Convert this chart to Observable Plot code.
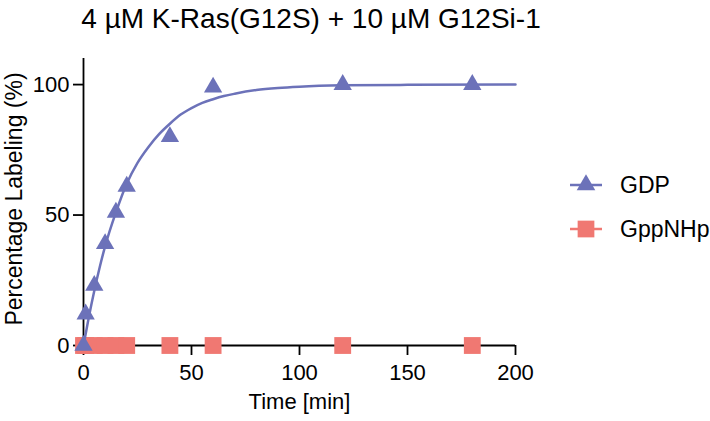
<!DOCTYPE html>
<html>
<head>
<meta charset="utf-8">
<script src="https://cdn.jsdelivr.net/npm/d3@7"></script>
<script src="https://cdn.jsdelivr.net/npm/@observablehq/plot@0.6"></script>
<style>
  body { margin: 0; background: #fff; font-family: "Liberation Sans", Arial, sans-serif; }
  #wrap { position: relative; width: 710px; height: 421px; overflow: hidden; }
  #title { position: absolute; left: 0; width: 622px; top: 3px; text-align: center; font-size: 28px; color: #000; white-space: nowrap; }
  #legend { position: absolute; left: 568px; top: 163px; font-size: 23px; color: #000; }
  .item { display: flex; align-items: center; height: 44px; }
  .item svg { margin-right: 16px; }
</style>
</head>
<body>
<div id="wrap">
  <div id="chart"></div>
  <div id="title">4 µM K-Ras(G12S) + 10 µM G12Si-1</div>
  <div id="legend"></div>
</div>
<script>
// Measured points (Time [min], Percentage Labeling %)
const timesGDP = [0, 1, 5, 10, 15, 20, 40, 60, 120, 180];
const valuesGDP = [0, 12, 23, 39, 51, 61, 80, 99, 100, 100];
const timesGppNHp = [0, 1, 5, 10, 15, 20, 40, 60, 120, 180];
const valuesGppNHp = [0, 0, 0, 0, 0, 0, 0, 0, 0, 0];
// Fitted curve
const fitTimes = [0, 2.5, 5, 7.5, 10, 15, 20, 25, 30, 35, 40, 45, 50, 55, 60, 65, 70, 80, 90, 100, 120, 150, 200];
const fitValues = [0, 11, 21, 30, 38, 51, 62, 70, 76, 81, 85, 88.5, 91, 93, 94.4, 95.6, 96.5, 97.9, 98.7, 99.2, 99.7, 99.9, 100];
const seriesNames = ["GDP", "GppNHp"];
const seriesColors = ["#6c72b9", "#f07872"];
const xTicks = [0, 50, 100, 150, 200];
const yTicks = [0, 50, 100];

const gdp = timesGDP.map((t, i) => ({t, v: valuesGDP[i]}));
const gpp = timesGppNHp.map((t, i) => ({t, v: valuesGppNHp[i]}));
const fit = fitTimes.map((t, i) => ({t, v: fitValues[i]}));

const chart = Plot.plot({
  width: 710,
  height: 421,
  marginLeft: 83,
  marginRight: 195,
  marginTop: 58,
  marginBottom: 76,
  style: {fontFamily: "Liberation Sans, Arial, sans-serif", fontSize: "22px", color: "#000", background: "transparent"},
  x: {domain: [0, 200]},
  y: {domain: [0, 110]},
  marks: [
    Plot.axisX({ticks: xTicks, tickSize: 10, tickPadding: 9, label: null, stroke: "#000", strokeWidth: 1.8, fontSize: 22}),
    Plot.axisY({ticks: yTicks, tickSize: 10, tickPadding: 4, label: null, stroke: "#000", strokeWidth: 1.8, fontSize: 22}),
    Plot.ruleY([0], {stroke: "#000", strokeWidth: 1.8}),
    Plot.ruleX([0], {stroke: "#000", strokeWidth: 1.8}),
    Plot.text(["Time [min]"], {frameAnchor: "bottom", dy: 63, fontSize: 22, fill: "#000"}),
    Plot.text(["Percentage Labeling (%)"], {frameAnchor: "left", textAnchor: "middle", dx: -69, dy: -3, rotate: -90, fontSize: 23, fill: "#000"}),
    Plot.dot(gpp, {x: "t", y: "v", symbol: "square", r: 9.5, fill: seriesColors[1], stroke: "none", clip: false}),
    Plot.line(fit, {x: "t", y: "v", stroke: seriesColors[0], strokeWidth: 2.5, curve: "monotone-x"}),
    Plot.dot(gdp, {x: "t", y: "v", symbol: "triangle", r: 6.8, fill: seriesColors[0], stroke: "none"})
  ]
});
document.getElementById("chart").appendChild(chart);

// Legend
const legend = d3.select("#legend");
seriesNames.forEach((name, i) => {
  const item = legend.append("div").attr("class", "item");
  const svg = item.append("svg").attr("width", 36).attr("height", 24);
  svg.append("line").attr("x1", 2).attr("x2", 34).attr("y1", 12).attr("y2", 12)
    .attr("stroke", seriesColors[i]).attr("stroke-width", 2.5);
  const sym = i === 0 ? d3.symbolTriangle : d3.symbolSquare;
  svg.append("path").attr("d", d3.symbol(sym, i === 0 ? 150 : 280)())
    .attr("transform", "translate(18,12)").attr("fill", seriesColors[i]);
  item.append("span").text(name);
});
</script>
</body>
</html>
